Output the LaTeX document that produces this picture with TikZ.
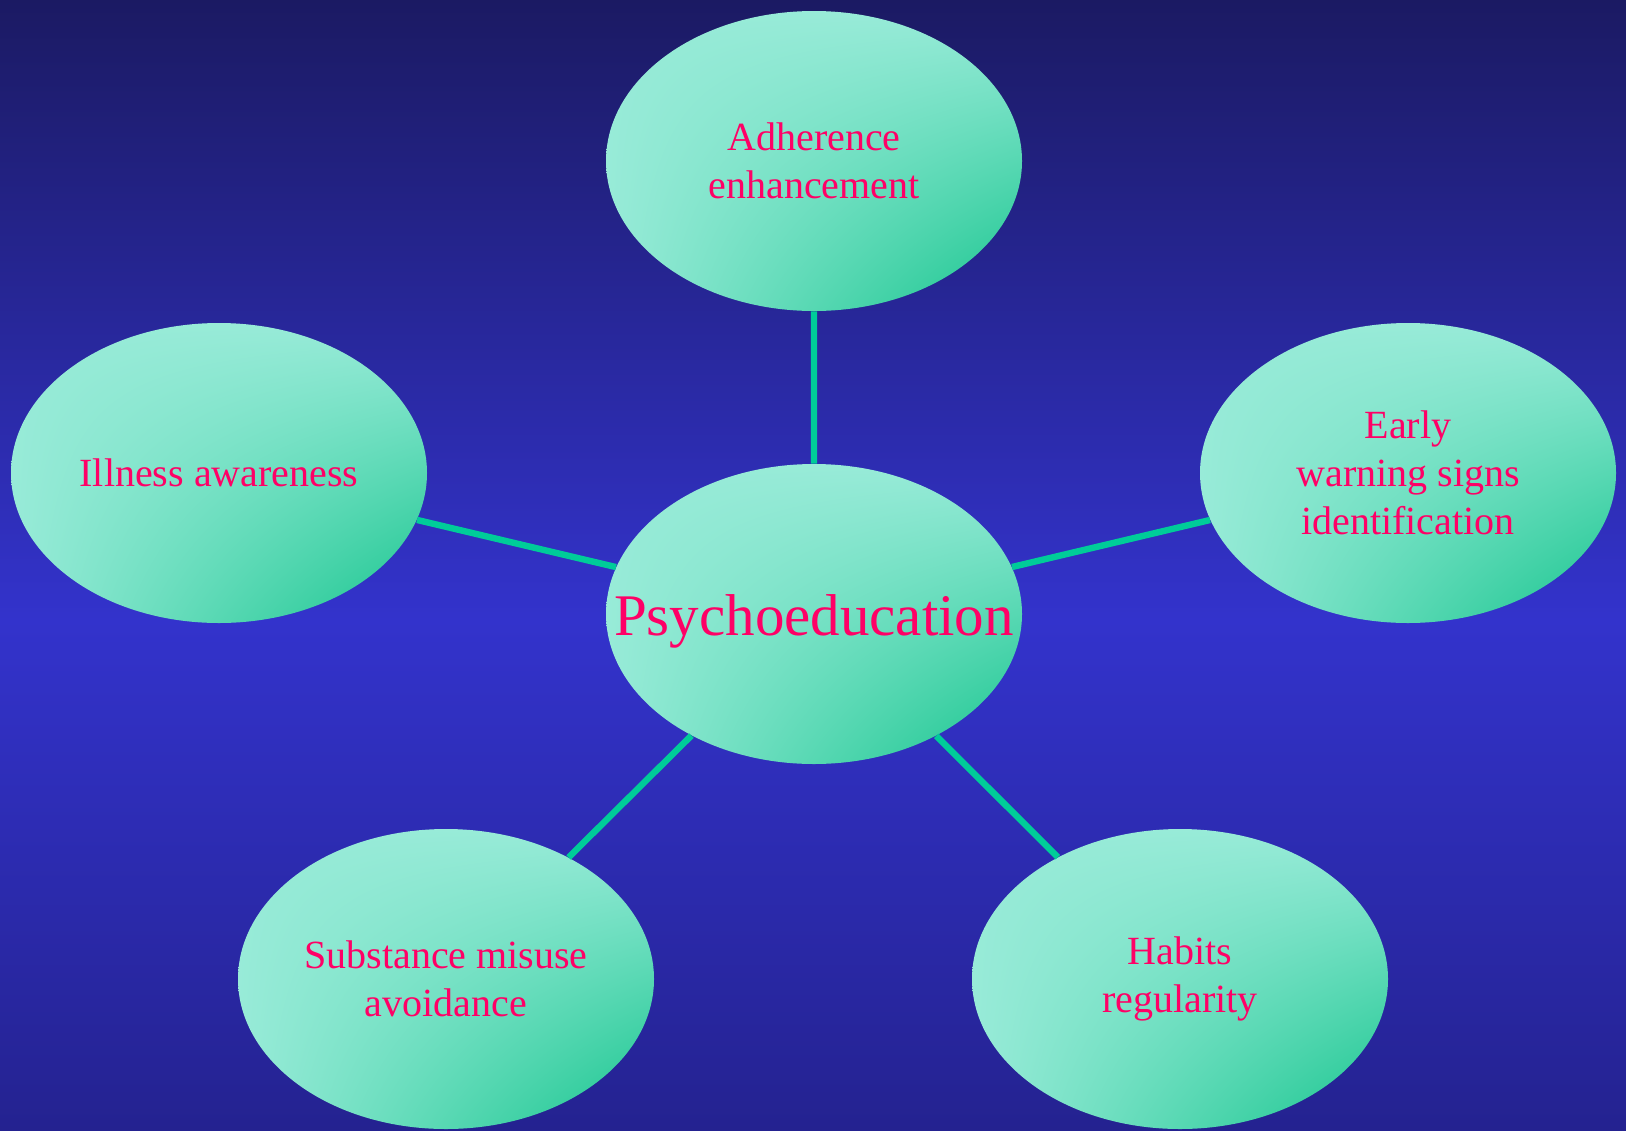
\documentclass[tikz,border=0pt]{standalone}
\usepackage{fontspec}
\setmainfont{Liberation Serif}
\usetikzlibrary{shapes.geometric,shadings}
\definecolor{mintlight}{HTML}{98EBD8}
\definecolor{mintdark}{HTML}{14C48C}
\definecolor{linkgreen}{HTML}{00CC99}
\definecolor{labelpink}{HTML}{FF0066}
\definecolor{bgtop}{HTML}{1B1A63}
\definecolor{bgmid}{HTML}{3333CC}
\definecolor{bgbot}{HTML}{242290}

\begin{document}
\begin{tikzpicture}[x=0.5pt,y=-0.5pt,
    bubble/.style={ellipse, minimum width=208pt, minimum height=150pt, inner sep=0pt,
      shade, shading=bilinear interpolation,
      upper left=mintlight, upper right=mintlight, lower left=mintlight, lower right=mintdark,
      text=labelpink, align=center, font=\fontsize{20}{24}\selectfont},
    link/.style={draw=linkgreen, line width=3.2pt}]
    % background
    \shade[top color=bgtop, bottom color=bgmid] (0,0) rectangle (1626,620);
    \shade[top color=bgmid, bottom color=bgbot] (0,620) rectangle (1626,1130);

    \node[bubble, font=\fontsize{29.5}{34}\selectfont] (psy) at (814,614) {\makebox[0pt]{\raisebox{-10.5pt}[0pt][0pt]{Psychoeducation}}};
    \node[bubble] (adh) at (814,161) {Adherence\\enhancement};
    \node[bubble] (ill) at (219,473) {Illness awareness};
    \node[bubble] (ews) at (1408,473) {Early\\warning signs\\ identification};
    \node[bubble] (sub) at (446,979) {Substance misuse\\avoidance};
    \node[bubble] (hab) at (1180,979) {Habits\\regularity};

    \draw[link] (psy) -- (adh)
      (psy) -- (ill)
      (psy) -- (ews)
      (psy) -- (sub)
      (psy) -- (hab);
\end{tikzpicture}
\end{document}
